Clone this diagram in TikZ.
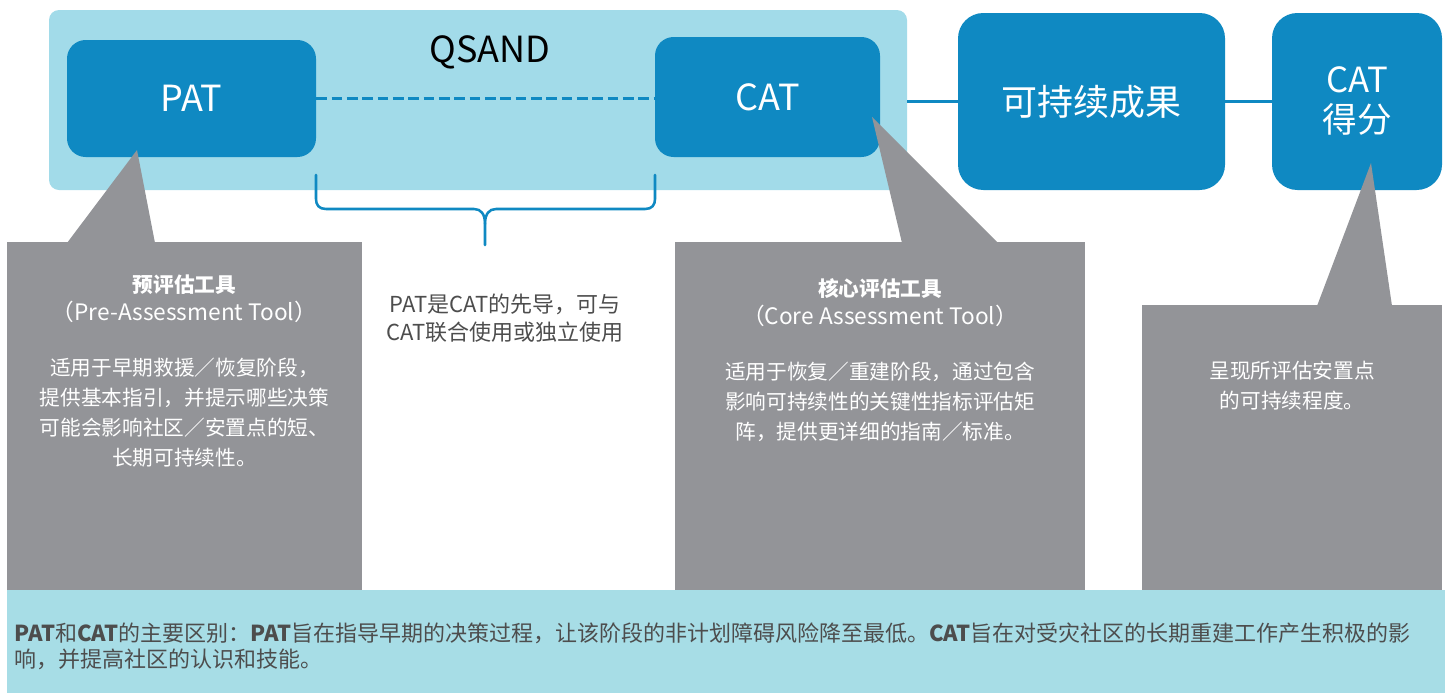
\documentclass[tikz,border=0pt]{standalone}
\usepackage{fontspec}
\setmainfont{Noto Sans CJK SC}
\definecolor{bgblue}{HTML}{A2DBE9}
\definecolor{boxblue}{HTML}{0F89C2}
\definecolor{callgray}{HTML}{939498}
\definecolor{barblue}{HTML}{A7DDE6}
\definecolor{txtgray}{HTML}{4D4D4D}
\begin{document}
\begin{tikzpicture}[x=0.75pt,y=-0.75pt,
  bluebox/.style={fill=boxblue, text=white, inner sep=0, rounded corners=14pt,
    align=center, font=\fontsize{27}{30}\selectfont},
  graybox/.style={fill=callgray, inner sep=0},
  calltext/.style={text=white, align=center, font=\fontsize{15.5}{22.5}\selectfont},
  calltitle/.style={text=white, align=center, font=\fontsize{15.5}{21}\selectfont},
  latinline/.style={font=\fontsize{17}{21}\selectfont},
  link/.style={draw=boxblue, line width=2.2pt},
  bracestyle/.style={draw=boxblue, line width=1.9pt, line cap=round}]
\useasboundingbox (0,0) rectangle (1451,693);
% QSAND background
\node[fill=bgblue, rounded corners=7.5pt, inner sep=0,
  minimum width=858*0.75pt, minimum height=180*0.75pt] (qsand) at (478,100) {};
\node[font=\fontsize{27}{30}\selectfont, text=black] (qlabel) at (490,52) {QSAND};
% blue boxes
\node[bluebox, minimum width=249*0.75pt, minimum height=117*0.75pt] (pat) at (191.5,98.5) {PAT};
\node[bluebox, minimum width=225*0.75pt, minimum height=120*0.75pt] (cat) at (767.5,97) {CAT};
\node[bluebox, rounded corners=19pt, minimum width=267*0.75pt, minimum height=177*0.75pt] (res) at (1091.5,101.5) {可持续成果};
\node[bluebox, rounded corners=19pt, minimum width=170*0.75pt, minimum height=177*0.75pt,
  font=\fontsize{26}{30}\selectfont] (score) at (1357,101.5) {CAT\\得分};
% connectors
\draw[link, line width=1.9pt, dash pattern=on 8pt off 3.5pt] (pat.east) -- (pat.east -| cat.west);
\draw[link] (qsand.east |- res.west) -- (res.west);
\draw[link] (res.east) -- (score.west);
% gray callouts
\node[graybox, minimum width=355*0.75pt, minimum height=348*0.75pt] (patcall) at (184.5,416) {};
\fill[callgray] (67,243) -- (137,150) -- (155,243) -- cycle;
\node[graybox, minimum width=410*0.75pt, minimum height=348*0.75pt] (catcall) at (880,416) {};
\fill[callgray] (902,243) -- (872,117) -- (998,243) -- cycle;
\node[graybox, minimum width=300*0.75pt, minimum height=285*0.75pt] (scorecall) at (1292,447.5) {};
\fill[callgray] (1317,306) -- (1371,163) -- (1392,306) -- cycle;
% brace
\draw[bracestyle] (316,175) -- (316,199) .. controls (316,205) and (319,209) .. (326,209)
  -- (474,209) .. controls (481,209) and (485,214) .. (485,224) -- (485,245);
\draw[bracestyle] (485,224) .. controls (485,214) and (489,209) .. (496,209)
  -- (645,209) .. controls (652,209) and (655,205) .. (655,199) -- (655,175);
% callout texts
\node[calltitle] (pattitle) at (184.5,299) {\textbf{预评估工具}\\{\fontsize{17}{21}\selectfont（Pre-Assessment Tool）}};
\node[calltext] (patbody) at (184.5,413) {适用于早期救援／恢复阶段，\\提供基本指引，并提示哪些决策\\可能会影响社区／安置点的短、\\长期可持续性。};
\node[text=txtgray, align=center, font=\fontsize{16.5}{21}\selectfont] (mid) at (505,318) {PAT是CAT的先导，可与\\CAT联合使用或独立使用};
\node[calltitle] (cattitle) at (880,302.5) {\textbf{核心评估工具}\\{\fontsize{17}{21}\selectfont（Core Assessment Tool）}};
\node[calltext] (catbody) at (880,401.5) {适用于恢复／重建阶段，通过包含\\影响可持续性的关键性指标评估矩\\阵，提供更详细的指南／标准。};
\node[calltext] (scorebody) at (1292,386) {呈现所评估安置点\\的可持续程度。};
% bottom bar
\node[fill=barblue, inner sep=0, minimum width=1438*0.75pt, minimum height=103*0.75pt] (bar) at (726,641.5) {};
\node[anchor=west, align=left, text=txtgray, font=\fontsize{16.5}{20}\selectfont] (note) at (10,646.5)
  {\textbf{PAT}和\textbf{CAT}的主要区别：\textbf{PAT}旨在指导早期的决策过程，让该阶段的非计划障碍风险降至最低。\textbf{CAT}旨在对受灾社区的长期重建工作产生积极的影\\响，并提高社区的认识和技能。};
\end{tikzpicture}
\end{document}
